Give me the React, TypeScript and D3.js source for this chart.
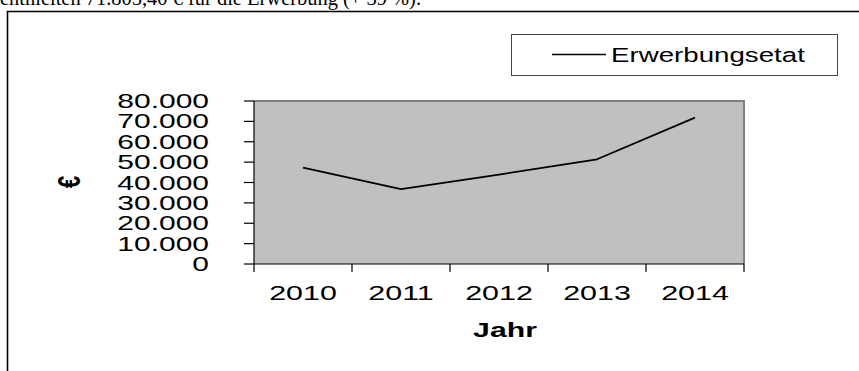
import React from "react";
import * as d3 from "d3";

const years = ["2010", "2011", "2012", "2013", "2014"];
const values = [47300, 36700, 43900, 51400, 71805];
const yTicks = [0, 10000, 20000, 30000, 40000, 50000, 60000, 70000, 80000];
const seriesName = "Erwerbungsetat";
const xTitle = "Jahr";
const yTitle = "€";
const topText = "enthielten 71.805,40 € für die Erwerbung (+ 39 %).";

const W = 859;
const H = 371;
const SX = 1.45;
const FONT = "'Liberation Sans', Arial, sans-serif";

const locale = d3.formatLocale({ decimal: ",", thousands: ".", grouping: [3], currency: ["", " €"] });
const fmt = locale.format(",d");

export default function App() {
  const x = d3.scaleBand<string>().domain(years).range([254, 744]).paddingInner(0).paddingOuter(0);
  const y = d3.scaleLinear().domain([0, 80000]).range([264, 101]);
  const line = d3
    .line<number>()
    .x((_, i) => (x(years[i]) as number) + x.bandwidth() / 2)
    .y((d) => y(d));
  const [x0, x1] = x.range();
  const [yb, yt] = y.range();
  const xEdges = years.map((yr) => x(yr) as number).concat([x1]);

  return (
    <svg width={W} height={H} style={{ position: "absolute", left: 0, top: 0, background: "#fff" }}>
      <text
        transform={`translate(0,5) scale(0.93,1)`}
        fontFamily="'Liberation Serif', 'Times New Roman', serif"
        fontSize={22}
        fill="#000"
      >
        {topText}
      </text>
      {/* outer frame */}
      <path d={`M7.5,${H + 5} L7.5,11.5 L${W + 5},11.5`} fill="none" stroke="#000" strokeWidth={1.6} />
      {/* legend */}
      <rect x={511.5} y={34.5} width={326} height={41} fill="#fff" stroke="#444" strokeWidth={1} />
      <line x1={552} x2={606} y1={54.5} y2={54.5} stroke="#000" strokeWidth={1.6} />
      <text transform={`translate(611,62) scale(1.42,1)`} fontFamily={FONT} fontSize={19.5} fill="#000">
        {seriesName}
      </text>
      {/* plot area */}
      <rect x={x0} y={yt} width={x1 - x0} height={yb - yt} fill="#c0c0c0" />
      <path d={`M${x0},${yt} L${x1},${yt} L${x1},${yb}`} fill="none" stroke="#808080" strokeWidth={2} />
      {/* y axis */}
      <line x1={x0} x2={x0} y1={yt} y2={yb} stroke="#000" strokeWidth={1.2} />
      {yTicks.map((t) => (
        <g key={t}>
          <line x1={x0 - 10} x2={x0} y1={y(t)} y2={y(t)} stroke="#000" strokeWidth={1.2} />
          <text
            transform={`translate(209,${y(t) + 7}) scale(1.5,1)`}
            textAnchor="end"
            fontFamily={FONT}
            fontSize={20}
            fill="#000"
          >
            {fmt(t)}
          </text>
        </g>
      ))}
      {/* x axis */}
      <line x1={x0} x2={x1} y1={yb} y2={yb} stroke="#000" strokeWidth={1.2} />
      {xEdges.map((e, i) => (
        <line key={i} x1={e} x2={e} y1={yb} y2={yb + 8} stroke="#000" strokeWidth={1.2} />
      ))}
      {years.map((yr) => (
        <text
          key={yr}
          transform={`translate(${(x(yr) as number) + x.bandwidth() / 2},300) scale(${SX},1)`}
          textAnchor="middle"
          fontFamily={FONT}
          fontSize={21}
          fill="#000"
        >
          {yr}
        </text>
      ))}
      <text
        transform={`translate(505,337) scale(1.44,1)`}
        textAnchor="middle"
        fontFamily={FONT}
        fontSize={21}
        fontWeight="bold"
        fill="#000"
      >
        {xTitle}
      </text>
      <text
        transform={`translate(80,182) rotate(-90) scale(1,1.45)`}
        textAnchor="middle"
        fontFamily={FONT}
        fontSize={22}
        fontWeight="bold"
        fill="#000"
      >
        {yTitle}
      </text>
      {/* series */}
      <path d={line(values) as string} fill="none" stroke="#000" strokeWidth={1.8} strokeLinejoin="round" />
    </svg>
  );
}
